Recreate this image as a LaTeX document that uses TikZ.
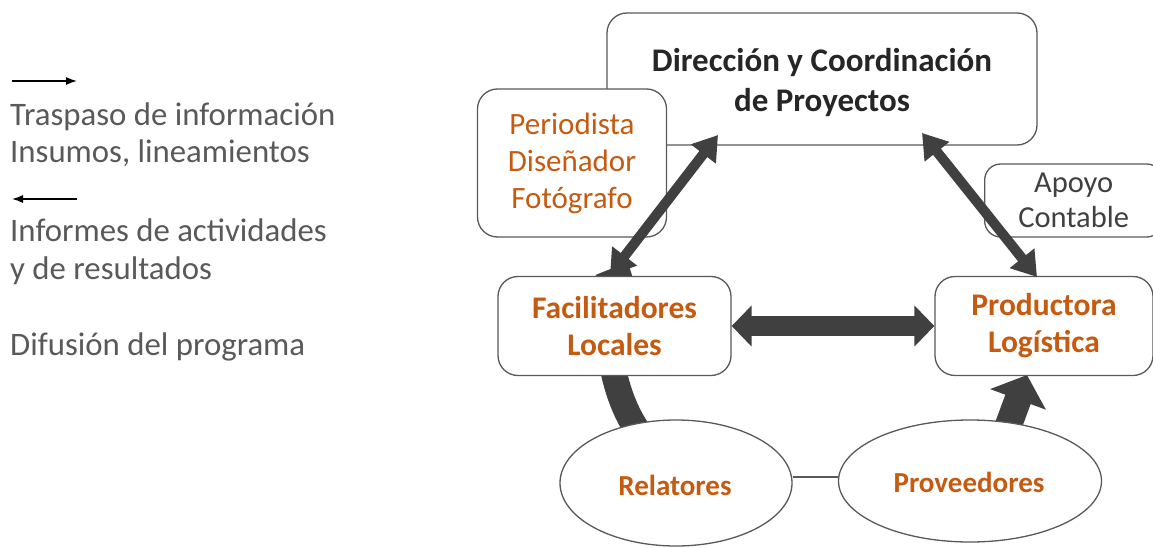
\documentclass[tikz,border=0pt]{standalone}
\usepackage{fontspec}
\setmainfont{Carlito}
\usetikzlibrary{arrows.meta,shapes.geometric}
\definecolor{orng}{HTML}{C55A11}
\definecolor{arrc}{HTML}{404040}
\definecolor{bord}{HTML}{595959}
\definecolor{legtxt}{HTML}{595959}
\definecolor{dtxt}{HTML}{262626}
\begin{document}
\begin{tikzpicture}[x=1pt,y=-1pt,
  box/.style={draw=bord, line width=1.3pt, rounded corners=20pt, fill=white, align=center, inner sep=0pt},
  ell/.style={draw=bord, line width=1.3pt, ellipse, fill=white, inner sep=0pt},
  legend/.style={anchor=base west, inner sep=0pt, text=legtxt, font=\fontsize{32.8}{38}\selectfont},
  orangebold/.style={text=orng, font=\fontsize{31.5}{37}\selectfont\bfseries},
  fatcurve/.style={draw=arrc, line width=26pt, -{Triangle[length=26pt,width=46pt]}},
  thinarrow/.style={draw=black, line width=1.3pt, -{Latex[length=11pt,width=8pt]}},
  diagarrow/.style={draw=arrc, line width=10pt, {Triangle[length=24pt,width=30pt]}-{Triangle[length=24pt,width=30pt]}},
  horarrow/.style={draw=arrc, line width=20pt, {Triangle[length=20pt,width=40pt]}-{Triangle[length=20pt,width=40pt]}}
]
\useasboundingbox (0,0) rectangle (1153,548);

% legend
\coordinate (l1a) at (12,81);
\coordinate (l1b) at (77,81);
\draw[thinarrow] (l1a) -- (l1b);
\node[legend] (t1) at (10,126) {Traspaso de información};
\node[legend] (t2) at (10,163) {Insumos, lineamientos};
\coordinate (l2a) at (77,199);
\coordinate (l2b) at (12,199);
\draw[thinarrow] (l2a) -- (l2b);
\node[legend] (t3) at (10,241) {Informes de actividades};
\node[legend] (t4) at (10,279) {y de resultados};
\node[legend] (t5) at (10,355) {Difusión del programa};

% curved arrows (behind boxes)
\coordinate (c1a) at (645,440);
\coordinate (c1b) at (628,262);
\draw[fatcurve] (c1a) .. controls (610,400) and (600,320) .. (c1b);
\coordinate (c2a) at (1003,440);
\coordinate (c2b) at (1027,375);
\draw[fatcurve, -{Triangle[length=26pt,width=58pt]}, line width=27pt] (c2a) -- (c2b);

% boxes
\node[box, minimum width=430pt, minimum height=132pt] (dir) at (822,79) {};
\node[inner sep=0pt, align=center, text=dtxt, font=\fontsize{33}{40}\selectfont\bfseries] (dirt) at (822,83) {Dirección y Coordinación\\de Proyectos};
\node[box, minimum width=189pt, minimum height=148pt, text=orng, font=\fontsize{31}{37}\selectfont] (per) at (572,163) {Periodista\\Diseñador\\Fotógrafo};
\node[box, rounded corners=16pt, text width=178pt, minimum height=73pt, text=arrc, font=\fontsize{30.5}{35}\selectfont, anchor=west] (apo) at (984,200.5) {Apoyo\\Contable};
\node[box, orangebold, minimum width=233pt, minimum height=99pt] (fac) at (614.5,326) {Facilitadores\\Locales};
\node[box, orangebold, minimum width=218pt, minimum height=99pt] (pro) at (1044,326) {Productora\\Logística};

% ellipses
\node[ell, minimum width=232pt, minimum height=126pt] (rel) at (676,483) {};
\node[ell, minimum width=263pt, minimum height=122pt] (prv) at (970,481) {};
\node[anchor=base, inner sep=0pt, text=orng, font=\fontsize{29}{34}\selectfont\bfseries] (relt) at (675,495) {Relatores};
\node[anchor=base, inner sep=0pt, text=orng, font=\fontsize{29}{34}\selectfont\bfseries] (prvt) at (969,492) {Proveedores};
\draw[draw=bord, line width=1.5pt] (rel.east |- 0,477) -- (prv.west |- 0,477);

% straight double arrows
\coordinate (d1a) at (610,275);
\coordinate (d1b) at (718,135);
\draw[diagarrow] (d1a) -- (d1b);
\coordinate (d2a) at (1037,277);
\coordinate (d2b) at (922,133);
\draw[diagarrow] (d2a) -- (d2b);
\draw[horarrow] (fac.east) -- (pro.west);
\end{tikzpicture}
\end{document}
